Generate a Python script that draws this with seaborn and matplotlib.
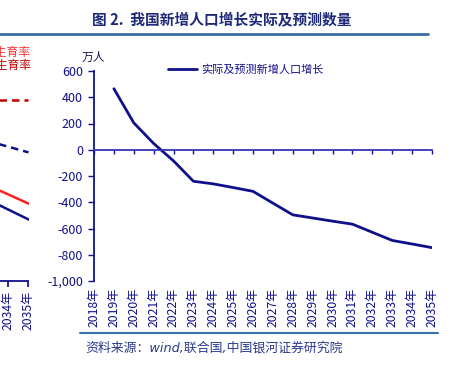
import numpy as np
import pandas as pd
import seaborn as sns
import matplotlib.pyplot as plt

# Main chart data (万人)
years = ["2018年", "2019年", "2020年", "2021年", "2022年", "2023年", "2024年", "2025年", "2026年",
         "2027年", "2028年", "2029年", "2030年", "2031年", "2032年", "2033年", "2034年", "2035年"]
growth = [np.nan, 465, 205, 48, -85, -240, -260, -288, -317,
          -407, -496, -520, -544, -567, -629, -691, -718, -746]
series_name = "实际及预测新增人口增长"

# Neighbouring chart (cut off at the left edge of the picture)
left_years = ["2033年", "2034年", "2035年"]
left_red_dash = [380, 380, 380]
left_navy_dash = [66, 23, -20]
left_red = [-272, -341, -410]
left_navy = [-381, -456, -531]
left_labels = ["低生育率", "高生育率"]

navy = "#10108a"
sns.set_theme(style="white")
plt.rcParams['font.family'] = ['Noto Sans CJK SC', 'DejaVu Sans']
plt.rcParams['axes.unicode_minus'] = False

fig = plt.figure(figsize=(4.53, 3.68), dpi=100)
W, H = 453, 368

def box(x0, y0, x1, y1):
    return [x0 / W, 1 - y1 / H, (x1 - x0) / W, (y1 - y0) / H]

# ---- main axes
ax = fig.add_axes(box(94, 71, 432, 281))
df = pd.DataFrame({"x": np.arange(len(years)), "v": growth})
sns.lineplot(data=df, x="x", y="v", ax=ax, color=navy, linewidth=2.0, label=series_name)
ax.set_xlim(0, len(years) - 1)
ax.set_ylim(-1000, 600)
ax.set_yticks(np.arange(-1000, 601, 200))
ax.set_yticklabels([f"{v:,}" for v in range(-1000, 601, 200)])
ax.set_xlabel("")
ax.set_ylabel("")
for s in ["top", "right"]:
    ax.spines[s].set_visible(False)
ax.spines["left"].set_color(navy)
ax.spines["left"].set_linewidth(1.3)
ax.spines["bottom"].set_position(("data", 0))
ax.spines["bottom"].set_color("#3535b5")
ax.spines["bottom"].set_linewidth(1.3)
ax.set_xticks(np.arange(len(years)))
ax.tick_params(axis="x", direction="out", length=3, width=1, color=navy, labelbottom=False, bottom=True)
ax.tick_params(axis="y", direction="out", length=4, width=1, color=navy, labelcolor=navy, labelsize=9, left=True, pad=4)

sec = ax.secondary_xaxis(0.0)
sec.set_xticks(np.arange(len(years)))
sec.set_xticklabels(years, rotation=90, fontsize=8.8, color=navy)
sec.tick_params(length=0, pad=5)
sec.spines["bottom"].set_visible(False)

leg = ax.legend(loc="upper left", bbox_to_anchor=(0.19, 1.08), frameon=False, fontsize=8,
                handlelength=2.6, handletextpad=0.4)
for t in leg.get_texts():
    t.set_color(navy)

fig.text(82 / W, 1 - 57 / H, "万人", fontsize=8.5, color="#1a1a50", va="center", ha="left")

# ---- neighbouring chart, mostly outside the figure
ax2 = fig.add_axes(box(-39, 71, 28.5, 281))
xs = np.arange(len(left_years))
sns.lineplot(x=xs, y=left_red_dash, ax=ax2, color="#c00000", linewidth=1.8, linestyle=(0, (3, 2)))
sns.lineplot(x=xs, y=left_navy_dash, ax=ax2, color=navy, linewidth=1.8, linestyle=(0, (3, 2)))
sns.lineplot(x=xs, y=left_red, ax=ax2, color="#ff2020", linewidth=1.8)
sns.lineplot(x=xs, y=left_navy, ax=ax2, color=navy, linewidth=1.8)
ax2.set_xlim(1 - 47 / 20, 2)
ax2.set_ylim(-1000, 600)
for s in ["top", "right", "left"]:
    ax2.spines[s].set_visible(False)
ax2.spines["bottom"].set_color(navy)
ax2.spines["bottom"].set_linewidth(1.3)
ax2.set_yticks([])
ax2.set_xticks(xs)
ax2.set_xticklabels(left_years, rotation=90, fontsize=8.8, color=navy)
ax2.tick_params(axis="x", direction="out", length=4, color=navy, bottom=True, pad=3)
fig.text(31 / W, 1 - 52 / H, left_labels[0], fontsize=8.5, color="#ff3030", ha="right", va="center")
fig.text(31 / W, 1 - 65 / H, left_labels[1], fontsize=8.5, color="#c00000", ha="right", va="center")

# ---- title, rules and source
fig.text(222 / W, 1 - 20 / H, "图 2.  我国新增人口增长实际及预测数量", fontsize=10.6, fontweight="bold",
         color="#1e2a78", ha="center", va="center")
fig.add_artist(plt.Line2D([0, 428 / W], [1 - 34 / H] * 2, color="#3a6ea5", linewidth=2))
fig.add_artist(plt.Line2D([80 / W, 438 / W], [1 - 333 / H] * 2, color="#3a6ea5", linewidth=1.5))
fig.text(85 / W, 1 - 348 / H, "资料来源：wind,联合国,中国银河证券研究院", fontsize=9.3, style="italic",
         family=['DejaVu Sans', 'Noto Sans CJK SC'], color="#2b3a8c", ha="left", va="center")

fig.savefig("out.png", dpi=100)
